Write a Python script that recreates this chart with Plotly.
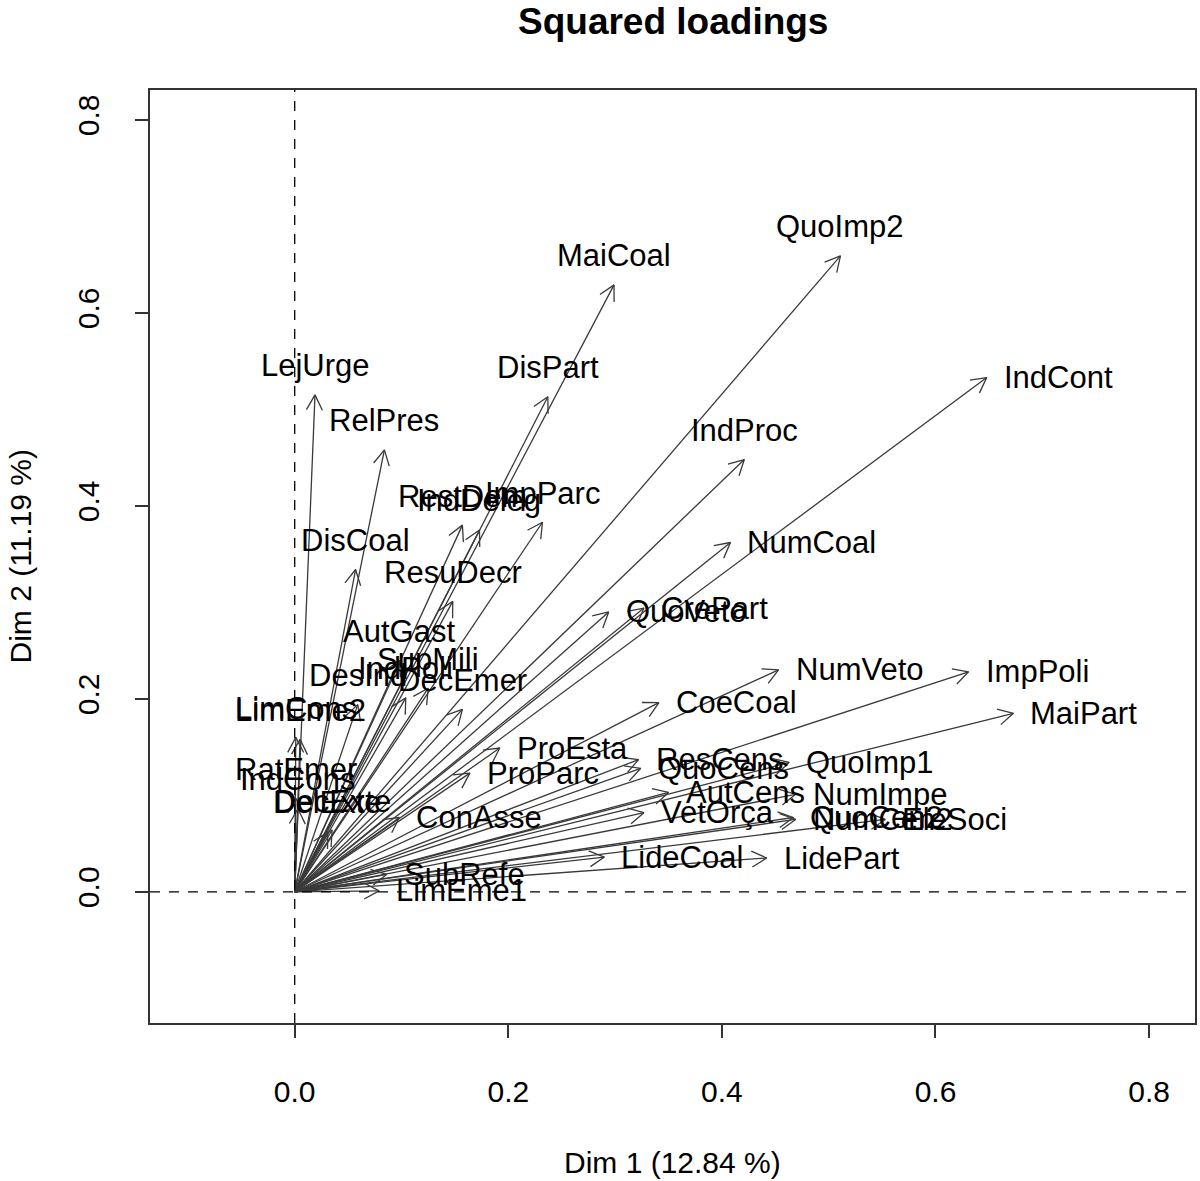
import math
import plotly.graph_objects as go

# variable names and squared loadings
names = ["QuoImp2", "MaiCoal", "IndCont", "LejUrge", "DisPart", "RelPres", "IndProc",
         "NumCoal", "RestDem", "IndDeleg", "ImpParc", "DisCoal", "ResuDecr", "AutGast",
         "DesInd", "IndPoli", "SupMili", "DecEmer", "LimEme2", "LimCons", "RatEmer",
         "IndCons", "DecExte", "DelExte", "QuoVeto", "CrePart", "NumVeto", "ImpPoli",
         "MaiPart", "CoeCoal", "ProEsta", "ProParc", "ResCens", "QuoCens", "QuoImp1",
         "AutCens", "NumImpe", "VetOrça", "ConAsse", "QuoCen2", "NumCen2", "EleSoci",
         "LideCoal", "LidePart", "SubRefe", "LimEme1"]
dim1 = [0.511, 0.299, 0.648, 0.019, 0.237, 0.084, 0.421,
        0.408, 0.157, 0.173, 0.232, 0.057, 0.148, 0.098,
        0.059, 0.104, 0.125, 0.157, 0.005, 0.001, 0.001,
        0.003, 0.035, 0.031, 0.294, 0.327, 0.453, 0.631,
        0.673, 0.341, 0.192, 0.164, 0.322, 0.324, 0.463,
        0.350, 0.469, 0.327, 0.098, 0.467, 0.469, 0.553,
        0.290, 0.442, 0.086, 0.079]
dim2 = [0.659, 0.629, 0.533, 0.515, 0.513, 0.458, 0.448,
        0.362, 0.380, 0.375, 0.383, 0.334, 0.301, 0.240,
        0.194, 0.201, 0.211, 0.189, 0.158, 0.160, 0.097,
        0.086, 0.064, 0.062, 0.290, 0.294, 0.230, 0.228,
        0.185, 0.196, 0.149, 0.123, 0.137, 0.128, 0.134,
        0.103, 0.101, 0.082, 0.077, 0.077, 0.075, 0.075,
        0.036, 0.035, 0.018, 0.001]

ticks = [0.0, 0.2, 0.4, 0.6, 0.8]
xr = [-0.1355, 0.843]
yr = [-0.136, 0.831]

W, H = 1200, 1181
ml, mr, mt, mb = 150, 3, 90, 158
pw, ph = W - ml - mr, H - mt - mb
sx = pw / (xr[1] - xr[0])
sy = ph / (yr[1] - yr[0])

FONT = "Liberation Sans, Arial, sans-serif"
head = 17
ang = math.radians(28)

lx, ly = [], []
for x, y in zip(dim1, dim2):
    th = math.atan2(y * sy, x * sx)
    lx += [0, x, None]
    ly += [0, y, None]
    for s in (1, -1):
        lx.append(x - head * math.cos(th + s * ang) / sx)
        ly.append(y - head * math.sin(th + s * ang) / sy)
        if s == 1:
            lx.append(x)
            ly.append(y)
    lx.append(None)
    ly.append(None)

fig = go.Figure()
fig.add_trace(go.Scatter(x=lx, y=ly, mode="lines",
                         line=dict(color="#3a3a3a", width=1.3),
                         hoverinfo="skip", showlegend=False))

for n, x, y in zip(names, dim1, dim2):
    if y > x:
        fig.add_annotation(x=x, y=y, text=n, showarrow=False, xanchor="center",
                           yanchor="middle", yshift=29)
    else:
        fig.add_annotation(x=x, y=y, text=n, showarrow=False, xanchor="left",
                           yanchor="middle", xshift=15)

fig.update_annotations(font=dict(family=FONT, size=31, color="black"))

fig.add_shape(type="line", x0=0, x1=0, y0=0, y1=1, xref="x", yref="paper",
              line=dict(color="black", width=1.3, dash="10px,9px"))
fig.add_shape(type="line", x0=0, x1=1, y0=0, y1=0, xref="paper", yref="y",
              line=dict(color="black", width=1.3, dash="10px,9px"))

fig.add_annotation(text="<b>Squared loadings</b>", xref="paper", yref="paper",
                   x=0.5, y=1, yshift=69, showarrow=False, yanchor="middle",
                   font=dict(family=FONT, size=37, color="black"))
fig.add_annotation(text="Dim 1 (12.84 %)", xref="paper", yref="paper",
                   x=0.5, y=0, yshift=-139, showarrow=False, yanchor="middle",
                   font=dict(family=FONT, size=30, color="black"))
fig.add_annotation(text="Dim 2 (11.19 %)", xref="paper", yref="paper",
                   x=0, y=0.5, xshift=-130, showarrow=False, xanchor="center",
                   textangle=-90, font=dict(family=FONT, size=30, color="black"))

axis = dict(showgrid=False, zeroline=False, showline=True, mirror=True,
            linecolor="#333333", linewidth=1.5, ticks="outside", ticklen=13,
            tickwidth=1.5, tickcolor="#333333", tickvals=ticks,
            ticktext=["%.1f" % t for t in ticks],
            tickfont=dict(family=FONT, size=30, color="black"))
fig.update_xaxes(axis, range=xr, ticklabelstandoff=28)
fig.update_yaxes(axis, range=yr, tickangle=-90, ticklabelstandoff=24)

fig.update_layout(width=W, height=H, margin=dict(l=ml, r=mr, t=mt, b=mb),
                  plot_bgcolor="white", paper_bgcolor="white")

# drop the page's default body margin so the figure sits at the window corner
fig.write_html("out.html", config={"displayModeBar": False},
               post_script="document.body.style.margin='0';"
               "document.body.style.overflow='hidden';")
